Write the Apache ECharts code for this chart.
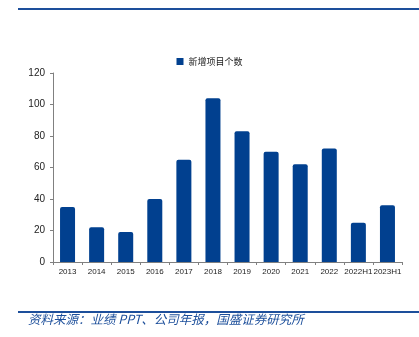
<!DOCTYPE html>
<html>
<head>
<meta charset="utf-8">
<style>
  html, body { margin: 0; padding: 0; background: #fff; }
  #chart { width: 419px; height: 337px; }
</style>
<script src="https://cdn.jsdelivr.net/npm/echarts@6/dist/echarts.min.js"></script>
</head>
<body>
<div id="chart"></div>
<script>
// Categories (years / half-years) and counts of newly added projects
const categories = ['2013', '2014', '2015', '2016', '2017', '2018', '2019', '2020', '2021', '2022', '2022H1', '2023H1'];
const newProjects = [35, 22, 19, 40, 65, 104, 83, 70, 62, 72, 25, 36];
const seriesName = '新增项目个数';
const yTicks = [0, 20, 40, 60, 80, 100, 120];
const sourceNote = '资料来源：业绩 PPT、公司年报，国盛证券研究所';

const chart = echarts.init(document.getElementById('chart'), null, { renderer: 'canvas' });

const barColor = '#01408f';
const ruleColor = '#1d4f9b';

chart.setOption({
  animation: false,
  backgroundColor: '#ffffff',
  legend: {
    top: 52,
    left: 'center',
    itemWidth: 7,
    itemHeight: 7,
    itemGap: 4,
    icon: 'rect',
    textStyle: { fontFamily: 'Noto Sans CJK SC', fontSize: 9, color: '#222' },
    data: [seriesName]
  },
  grid: { left: 53, right: 17, top: 73, bottom: 75, containLabel: false },
  xAxis: {
    type: 'category',
    data: categories,
    boundaryGap: true,
    axisLine: { lineStyle: { color: '#808080', width: 1 } },
    axisTick: { show: true, length: 3, lineStyle: { color: '#808080' } },
    axisLabel: { fontFamily: 'Liberation Sans', fontSize: 8, color: '#222', margin: 6, interval: 0 }
  },
  yAxis: {
    type: 'value',
    min: yTicks[0],
    max: yTicks[yTicks.length - 1],
    interval: 20,
    splitLine: { show: false },
    axisLine: { show: true, lineStyle: { color: '#808080', width: 1 } },
    axisTick: { show: true, length: 3, lineStyle: { color: '#808080' } },
    axisLabel: { fontFamily: 'Liberation Sans', fontSize: 10, color: '#222', margin: 8 }
  },
  series: [{
    name: seriesName,
    type: 'bar',
    data: newProjects,
    barWidth: 15,
    itemStyle: { color: barColor, borderRadius: [2, 2, 0, 0] }
  }],
  graphic: [
    { type: 'rect', shape: { x: 18, y: 8, width: 401, height: 2 }, style: { fill: ruleColor } },
    { type: 'rect', shape: { x: 18, y: 311, width: 401, height: 2 }, style: { fill: ruleColor } },
    {
      type: 'text', left: 28, top: 313,
      style: {
        text: sourceNote,
        fill: '#1d4f9b',
        fontFamily: 'Noto Sans CJK SC',
        fontSize: 12.5,
        fontStyle: 'italic'
      }
    }
  ]
});
</script>
</body>
</html>
